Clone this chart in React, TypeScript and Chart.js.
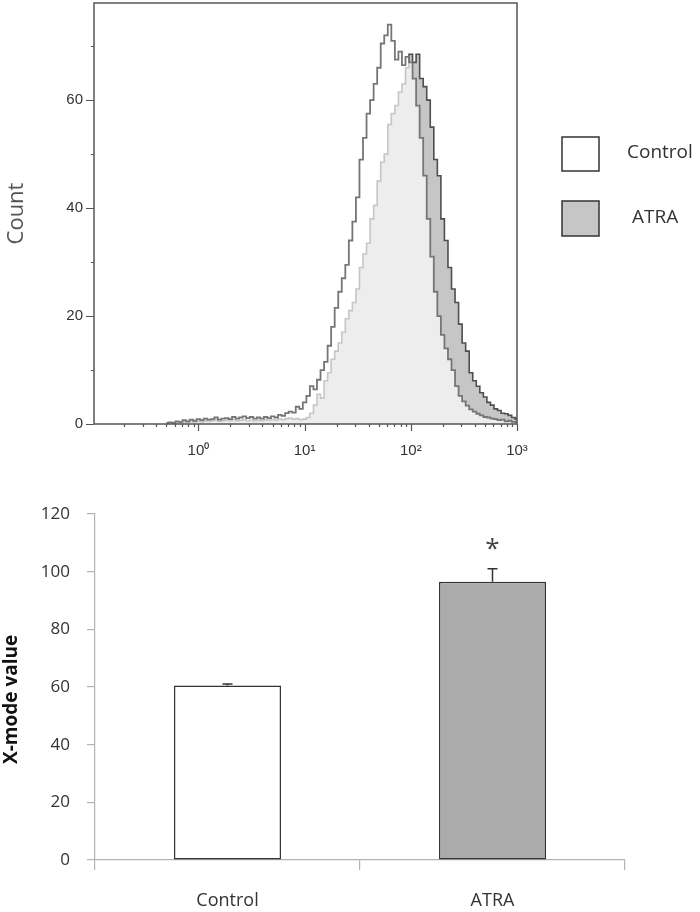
import React, { useEffect, useRef } from "react";
import { Chart, registerables } from "chart.js";

Chart.register(...registerables);

// ---------------- Histogram data ----------------
const HIST_SERIES = ["Control", "ATRA"];
// instrument log channels: first bin at 10^-0.3, 30 bins per decade
const HIST_FIRST_DECADE = -0.3;
const HIST_BINS_PER_DECADE = 30;
const CONTROL_COUNTS = [
  0.2, 0.3, 0.2, 0.5, 0.4, 0.7, 0.5, 0.8, 0.6, 0.9,
  0.7, 1.0, 0.8, 0.9, 1.2, 0.8, 1.0, 1.1, 0.9, 1.3,
  1.0, 1.2, 1.4, 1.1, 1.3, 1.0, 1.2, 1.0, 1.3, 1.1,
  1.4, 1.2, 1.7, 1.5, 2.0, 2.3, 2.1, 3.2, 2.8, 4.0,
  5.2, 7.0, 6.4, 8.2, 10.0, 11.5, 14.5, 18.0, 21.5, 24.5,
  27.0, 29.5, 34.0, 37.5, 42.0, 49.0, 53.0, 57.5, 60.0, 63.0,
  66.0, 70.5, 72.0, 74.0, 71.0, 67.5, 69.0, 66.5, 68.0, 67.0,
  64.0, 59.0, 53.0, 46.0, 38.0, 31.0, 24.5, 20.0, 16.5, 14.0,
  12.0, 10.0, 7.0, 5.2, 4.2, 3.4, 2.7, 2.3, 1.9, 1.6,
  1.3, 1.2, 1.0, 0.9, 0.7, 0.8, 0.5, 0.6, 0.4, 0.3,
];
const ATRA_COUNTS = [
  0.1, 0.2, 0.2, 0.3, 0.2, 0.4, 0.3, 0.5, 0.4, 0.5,
  0.4, 0.6, 0.5, 0.6, 0.7, 0.5, 0.6, 0.7, 0.6, 0.8,
  0.6, 0.7, 0.8, 0.6, 0.7, 0.6, 0.7, 0.6, 0.8, 0.7,
  0.8, 0.7, 0.9, 0.8, 1.0, 1.1, 0.9, 1.0, 0.8, 0.9,
  1.2, 2.0, 3.5, 5.5, 4.8, 8.0, 9.5, 12.0, 13.5, 15.0,
  17.0, 19.5, 21.0, 22.5, 25.0, 29.0, 31.5, 33.5, 38.0, 40.5,
  45.0, 48.5, 50.0, 55.5, 57.5, 59.0, 61.5, 63.0, 66.0, 68.5,
  67.0, 68.5, 64.0, 62.5, 60.0, 55.0, 49.0, 46.0, 38.0, 34.0,
  29.0, 25.0, 22.5, 18.5, 15.0, 13.5, 9.5, 8.0, 7.0, 5.8,
  5.0, 4.0, 3.5, 2.8, 2.5, 2.0, 1.9, 1.6, 1.2, 0.9,
];
const HIST_X_MIN = 0.104;
const HIST_X_MAX = 1000;
const X_MAJOR_VALUES = [1, 10, 100, 1000];
const X_MAJOR_LABELS = ["10⁰", "10¹", "10²", "10³"];
const Y_HIST_TICKS = [0, 10, 20, 30, 40, 50, 60, 70];
const Y_HIST_LABELED = [0, 20, 40, 60];
const HIST_Y_MAX = 78;
const LEGEND_SWATCHES = ["#ffffff", "#c6c6c6"];

// ---------------- Bar data ----------------
const BAR_CATEGORIES = ["Control", "ATRA"];
const BAR_VALUES = [60.5, 96.5];
const BAR_ERRORS = [0.5, 4.5];
const BAR_MARKS = ["", "*"];
const BAR_COLORS = ["#ffffff", "#ababab"];
const BAR_Y_MAX = 120;
const BAR_Y_STEP = 20;

const binValue = (i: number) =>
  Math.pow(10, HIST_FIRST_DECADE + i / HIST_BINS_PER_DECADE);

const isMajorX = (v: number) =>
  X_MAJOR_VALUES.some((m) => Math.abs(m - v) < 1e-9 * m);

const histDecor = {
  id: "histDecor",
  afterDraw(chart: any) {
    const { ctx, chartArea: a } = chart;
    const xs = chart.scales.x;
    const ys = chart.scales.y;
    ctx.save();
    ctx.strokeStyle = "#555555";
    ctx.lineWidth = 1.5;
    ctx.strokeRect(a.left, a.top, a.right - a.left, a.bottom - a.top);
    ctx.lineWidth = 1.2;
    ctx.beginPath();
    for (const t of xs.ticks) {
      const px = Math.round(xs.getPixelForValue(t.value)) + 0.5;
      const len = isMajorX(t.value) ? 7 : 3;
      ctx.moveTo(px, a.bottom);
      ctx.lineTo(px, a.bottom + len);
    }
    for (const t of ys.ticks) {
      const py = Math.round(ys.getPixelForValue(t.value)) + 0.5;
      const len = Y_HIST_LABELED.includes(t.value) ? 8 : 3;
      ctx.moveTo(a.left - len, py);
      ctx.lineTo(a.left, py);
    }
    ctx.stroke();

    // legend
    const boxes = [
      { y: 137, h: 34, tx: 627, ty: 158 },
      { y: 201, h: 35, tx: 632, ty: 223 },
    ];
    chart.data.datasets.forEach((ds: any, i: number) => {
      const b = boxes[i];
      ctx.fillStyle = LEGEND_SWATCHES[i];
      ctx.fillRect(562, b.y, 37, b.h);
      ctx.strokeStyle = "#333333";
      ctx.lineWidth = 1.5;
      ctx.strokeRect(562, b.y, 37, b.h);
      ctx.fillStyle = "#333333";
      ctx.font = '19px "Open Sans"';
      ctx.textAlign = "left";
      ctx.textBaseline = "alphabetic";
      ctx.fillText(ds.label, b.tx, b.ty);
    });
    ctx.restore();
  },
};

const errorBars = {
  id: "errorBars",
  afterDatasetsDraw(chart: any) {
    const { ctx } = chart;
    const ys = chart.scales.y;
    const meta = chart.getDatasetMeta(0);
    ctx.save();
    ctx.strokeStyle = "#333333";
    ctx.lineWidth = 1.5;
    meta.data.forEach((bar: any, i: number) => {
      const v = BAR_VALUES[i];
      const e = BAR_ERRORS[i];
      const top = ys.getPixelForValue(v + e);
      const base = ys.getPixelForValue(v);
      ctx.beginPath();
      ctx.moveTo(bar.x, base);
      ctx.lineTo(bar.x, top);
      ctx.moveTo(bar.x - 5, top);
      ctx.lineTo(bar.x + 5, top);
      ctx.stroke();
      if (BAR_MARKS[i]) {
        ctx.fillStyle = "#444444";
        ctx.font = '26px "Open Sans"';
        ctx.textAlign = "center";
        ctx.textBaseline = "alphabetic";
        ctx.fillText(BAR_MARKS[i], bar.x, top - 12);
      }
    });
    ctx.restore();
  },
};

function Histogram() {
  const ref = useRef<HTMLCanvasElement>(null);
  useEffect(() => {
    const toPoints = (arr: number[]) =>
      arr.map((y, i) => ({ x: binValue(i), y }));
    const chart = new Chart(ref.current as HTMLCanvasElement, {
      type: "line",
      data: {
        datasets: [
          {
            label: HIST_SERIES[0],
            data: toPoints(CONTROL_COUNTS),
            borderColor: "#767676",
            borderWidth: 1.8,
            backgroundColor: "rgba(255,255,255,0.68)",
            fill: "origin",
            stepped: "middle",
            pointRadius: 0,
          },
          {
            label: HIST_SERIES[1],
            data: toPoints(ATRA_COUNTS),
            borderColor: "#4f4f4f",
            borderWidth: 1.6,
            backgroundColor: "#c6c6c6",
            fill: "origin",
            stepped: "middle",
            pointRadius: 0,
          },
        ],
      } as any,
      options: {
        responsive: false,
        animation: false,
        events: [],
        layout: { padding: { left: 0, right: 183, top: 3, bottom: 0 } },
        plugins: { legend: { display: false }, tooltip: { enabled: false } },
        scales: {
          x: {
            type: "logarithmic",
            min: HIST_X_MIN,
            max: HIST_X_MAX,
            afterBuildTicks: (s: any) => {
              const t: any[] = [];
              for (let e = -1; e <= 2; e++) {
                for (let m = 1; m <= 9; m++) {
                  const v = m * Math.pow(10, e);
                  if (v > HIST_X_MIN) t.push({ value: v });
                }
              }
              t.push({ value: HIST_X_MAX });
              s.ticks = t;
            },
            afterFit: (s: any) => {
              s.height = 46;
              s.paddingLeft = 0;
              s.paddingRight = 0;
            },
            grid: { display: false, drawTicks: false },
            border: { display: false },
            ticks: {
              autoSkip: false,
              maxRotation: 0,
              padding: 18,
              color: "#333333",
              font: { family: '"Liberation Sans"', size: 15 },
              callback: (v: any) => {
                const idx = X_MAJOR_VALUES.findIndex(
                  (m) => Math.abs(m - v) < 1e-9 * m
                );
                return idx >= 0 ? X_MAJOR_LABELS[idx] : "";
              },
            },
          },
          y: {
            min: 0,
            max: HIST_Y_MAX,
            afterBuildTicks: (s: any) => {
              s.ticks = Y_HIST_TICKS.map((v) => ({ value: v }));
            },
            afterFit: (s: any) => {
              s.width = 94;
              s.paddingTop = 0;
              s.paddingBottom = 0;
            },
            grid: { display: false, drawTicks: false },
            border: { display: false },
            ticks: {
              padding: 11,
              color: "#333333",
              font: { family: '"Liberation Sans"', size: 15 },
              callback: (v: any) =>
                Y_HIST_LABELED.includes(v) ? String(v) : "",
            },
            title: {
              display: true,
              text: "Count",
              color: "#555555",
              font: { family: '"Open Sans"', size: 22 },
              padding: { top: 4, bottom: 0 },
            },
          },
        },
      } as any,
      plugins: [histDecor],
    });
    return () => chart.destroy();
  }, []);
  return (
    <canvas
      ref={ref}
      width={700}
      height={470}
      style={{ position: "absolute", left: 0, top: 0 }}
    />
  );
}

function BarPanel() {
  const ref = useRef<HTMLCanvasElement>(null);
  useEffect(() => {
    const chart = new Chart(ref.current as HTMLCanvasElement, {
      type: "bar",
      data: {
        labels: BAR_CATEGORIES,
        datasets: [
          {
            data: BAR_VALUES,
            backgroundColor: BAR_COLORS,
            borderColor: "#333333",
            borderWidth: 1.5,
            borderSkipped: false,
            barPercentage: 0.404,
            categoryPercentage: 1,
          },
        ],
      },
      options: {
        responsive: false,
        animation: false,
        events: [],
        layout: { padding: { left: 0, right: 75, top: 44, bottom: 0 } },
        plugins: { legend: { display: false }, tooltip: { enabled: false } },
        scales: {
          x: {
            afterFit: (s: any) => {
              s.height = 52;
            },
            grid: {
              offset: true,
              drawOnChartArea: false,
              tickLength: 10,
              color: "#b3b3b3",
              lineWidth: 1.2,
            },
            border: { color: "#b3b3b3", width: 1.2 },
            ticks: {
              padding: 20,
              color: "#333333",
              font: { family: '"Open Sans"', size: 18 },
            },
          },
          y: {
            min: 0,
            max: BAR_Y_MAX,
            afterFit: (s: any) => {
              s.width = 95;
            },
            grid: {
              drawOnChartArea: false,
              tickLength: 8,
              color: "#b3b3b3",
              lineWidth: 1.2,
            },
            border: { color: "#b3b3b3", width: 1.2 },
            ticks: {
              stepSize: BAR_Y_STEP,
              padding: 17,
              color: "#333333",
              font: { family: '"Open Sans"', size: 17 },
            },
            title: {
              display: true,
              text: "X-mode value     ",
              color: "#111111",
              font: { family: '"Open Sans"', size: 19, weight: "bold" },
              padding: { top: 0, bottom: 0 },
            },
          },
        },
      } as any,
      plugins: [errorBars],
    });
    return () => chart.destroy();
  }, []);
  return (
    <canvas
      ref={ref}
      width={700}
      height={442}
      style={{ position: "absolute", left: 0, top: 470 }}
    />
  );
}

export default function App() {
  return (
    <div
      style={{
        position: "absolute",
        left: 0,
        top: 0,
        width: 700,
        height: 912,
        background: "#ffffff",
        overflow: "hidden",
      }}
    >
      <Histogram />
      <BarPanel />
    </div>
  );
}
